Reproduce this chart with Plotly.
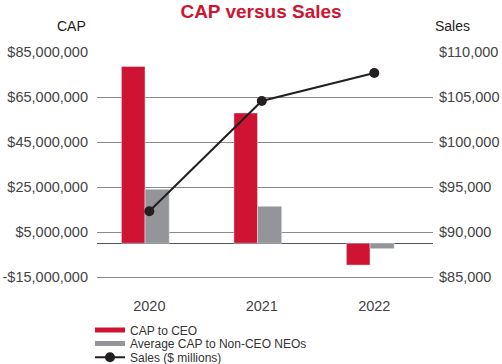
import plotly.graph_objects as go

years = ["2020", "2021", "2022"]
cap_ceo = [78.6e6, 57.9e6, -9.7e6]
cap_neo = [24.0e6, 16.4e6, -2.4e6]
sales = [92300, 104556, 107667]

left_ticks = [85e6, 65e6, 45e6, 25e6, 5e6, -15e6]
left_labels = ["$85,000,000", "$65,000,000", "$45,000,000", "$25,000,000", "$5,000,000", "-$15,000,000"]
right_ticks = [110000, 105000, 100000, 95000, 90000, 85000]
right_labels = ["$110,000", "$105,000", "$100,000", "$95,000", "$90,000", "$85,000"]

RED = "#CE1432"
GRAY = "#939598"
BLACK = "#231F20"
FONT = "Liberation Sans, Arial, sans-serif"

x = [0, 1, 2]

fig = go.Figure()
fig.add_trace(go.Bar(x=x, y=cap_ceo, marker_color=RED, width=0.21, offset=-0.248,
                     showlegend=False, yaxis="y"))
fig.add_trace(go.Bar(x=x, y=cap_neo, marker_color=GRAY, width=0.215, offset=-0.038,
                     showlegend=False, yaxis="y"))
fig.add_trace(go.Scatter(x=x, y=sales, mode="lines+markers", yaxis="y2",
                         line=dict(color=BLACK, width=2),
                         marker=dict(color=BLACK, size=10),
                         showlegend=False))
# legend proxies, one legend each so spacing can match the reference
fig.add_trace(go.Scatter(x=[None], y=[None], mode="lines", name="CAP to CEO",
                         line=dict(color=RED, width=5), legend="legend"))
fig.add_trace(go.Scatter(x=[None], y=[None], mode="lines", name="Average CAP to Non-CEO NEOs",
                         line=dict(color=GRAY, width=5), legend="legend2"))
fig.add_trace(go.Scatter(x=[None], y=[None], mode="lines+markers", name="Sales ($ millions)",
                         line=dict(color=BLACK, width=2), marker=dict(color=BLACK, size=10),
                         yaxis="y2", legend="legend3"))

L, R, T, B = 97, 69, 52, 87
W, H = 502, 364
pw = W - L - R
ph = H - T - B

def ann(text, px, py):
    return dict(text=text, x=(px - L) / pw, y=(H - B - py) / ph, xref="paper", yref="paper",
                showarrow=False, xanchor="center", yanchor="middle",
                font=dict(family=FONT, size=14, color="#222222"))

def leg(ytop):
    return dict(x=(90 - L) / pw, xanchor="left", yref="container", y=1 - ytop / H, yanchor="top",
                orientation="v", font=dict(family=FONT, size=12, color="#333333"),
                bgcolor="rgba(0,0,0,0)")

fig.update_layout(
    width=W, height=H,
    margin=dict(l=L, r=R, t=T, b=B, autoexpand=False),
    paper_bgcolor="white", plot_bgcolor="white",
    font=dict(family=FONT, size=14, color="#444444"),
    title=dict(text="<b>CAP versus Sales</b>", x=0.52, xanchor="center",
               yref="container", y=0.9875, yanchor="top",
               font=dict(family=FONT, size=19, color=RED)),
    barmode="overlay",
    xaxis=dict(range=[-0.465, 2.522], tickmode="array", tickvals=x, ticktext=years,
               showgrid=False, zeroline=False, showline=True, linecolor="#8a8a8a", linewidth=1,
               ticks="outside", ticklen=16, tickcolor="rgba(0,0,0,0)",
               tickfont=dict(size=14.5, color="#444444")),
    yaxis=dict(range=[-15e6, 85e6], tickmode="array", tickvals=left_ticks, ticktext=left_labels,
               showgrid=True, gridcolor="#8a8a8a", gridwidth=1,
               zeroline=True, zerolinecolor="#555555", zerolinewidth=1,
               showline=False, ticks="", ticklabelstandoff=8,
               tickfont=dict(size=14.5, color="#444444")),
    yaxis2=dict(range=[85000, 110000], overlaying="y", side="right", tickmode="array",
                tickvals=right_ticks, ticktext=right_labels, showgrid=False, zeroline=False,
                showline=False, ticks="", ticklabelstandoff=5,
                tickfont=dict(size=14.5, color="#444444")),
    legend=leg(315.4),
    legend2=leg(329.0),
    legend3=leg(342.8),
    annotations=[ann("CAP", 71, 26), ann("Sales", 452, 26)],
)

fig.write_html("out.html", config={"displayModeBar": False},
               post_script="document.body.style.margin='0';document.body.style.padding='0';")
